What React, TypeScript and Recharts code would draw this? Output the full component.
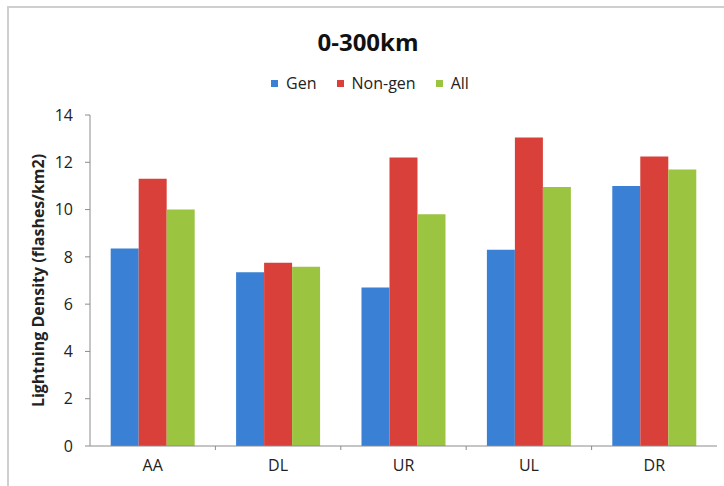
import { BarChart, Bar, XAxis, YAxis } from 'recharts'

const regions = ['AA', 'DL', 'UR', 'UL', 'DR']
const genValues = [8.35, 7.35, 6.7, 8.3, 11.0]
const nonGenValues = [11.3, 7.75, 12.2, 13.05, 12.25]
const allValues = [10.0, 7.58, 9.8, 10.95, 11.7]
const yTicks = [0, 2, 4, 6, 8, 10, 12, 14]

const series = [
  { key: 'gen', name: 'Gen', color: '#3a80d4' },
  { key: 'nonGen', name: 'Non-gen', color: '#d9403a' },
  { key: 'all', name: 'All', color: '#9bc440' },
]

const data = regions.map((region, i) => ({
  region,
  gen: genValues[i],
  nonGen: nonGenValues[i],
  all: allValues[i],
}))

const FONT = '"Open Sans", "Liberation Sans", sans-serif'
const AXIS = '#8c8c8c'

function CategoryTick(props: any) {
  const { x, y, payload, index } = props
  const half = payload.offset || 0
  return (
    <g>
      {index > 0 && <line x1={x - half} x2={x - half} y1={y - 8} y2={y - 4} stroke={AXIS} />}
      <text x={x} y={y + 17} textAnchor="middle" fill="#222" fontSize={16} fontFamily={FONT}>
        {payload.value}
      </text>
    </g>
  )
}

export default function App() {
  return (
    <div style={{ position: 'absolute', left: 0, top: 0, width: 724, height: 486, background: '#fff', overflow: 'hidden' }}>
      {/* frame lines of the original scan */}
      <div style={{ position: 'absolute', left: 8, top: 6, width: 716, height: 2, background: '#cfcfcf' }} />
      <div style={{ position: 'absolute', left: 7, top: 6, width: 2, height: 480, background: '#cfcfcf' }} />
      <div
        style={{
          position: 'absolute',
          left: 12,
          width: 712,
          top: 25,
          textAlign: 'center',
          fontFamily: FONT,
          fontWeight: 700,
          fontSize: 24,
          color: '#111',
        }}
      >
        0-300km
      </div>
      <div
        style={{
          position: 'absolute',
          left: 14,
          width: 712,
          top: 72,
          display: 'flex',
          justifyContent: 'center',
          gap: 20,
          fontFamily: FONT,
          fontSize: 16,
          color: '#222',
        }}
      >
        {series.map((s) => (
          <span key={s.key} style={{ display: 'flex', alignItems: 'center', gap: 8 }}>
            <span style={{ width: 7, height: 7, background: s.color, display: 'inline-block' }} />
            {s.name}
          </span>
        ))}
      </div>
      <BarChart
        width={724}
        height={486}
        data={data}
        margin={{ top: 115, right: 7, bottom: 10, left: 30 }}
        barGap={0}
        barCategoryGap="16.5%"
        style={{ position: 'absolute', left: 0, top: 0 }}
      >
        <XAxis
          dataKey="region"
          stroke={AXIS}
          tickLine={false}
          tick={<CategoryTick />}
          height={30}
          interval={0}
        />
        <YAxis
          domain={[0, 14]}
          ticks={yTicks}
          width={60}
          stroke={AXIS}
          tickSize={5}
          tick={{ fill: '#222', fontSize: 16, fontFamily: FONT, dx: -10 }}
          label={({ viewBox }: any) => (
            <text
              x={viewBox.x + 8}
              y={viewBox.y + viewBox.height / 2}
              transform={`rotate(-90 ${viewBox.x + 8} ${viewBox.y + viewBox.height / 2})`}
              textAnchor="middle"
              dominantBaseline="central"
              fontFamily={FONT}
              fontWeight={700}
              fontSize={16}
              fill="#222"
            >
              Lightning Density (flashes/km2)
            </text>
          )}
        />
        {series.map((s) => (
          <Bar key={s.key} dataKey={s.key} name={s.name} fill={s.color} isAnimationActive={false} />
        ))}
      </BarChart>
    </div>
  )
}
